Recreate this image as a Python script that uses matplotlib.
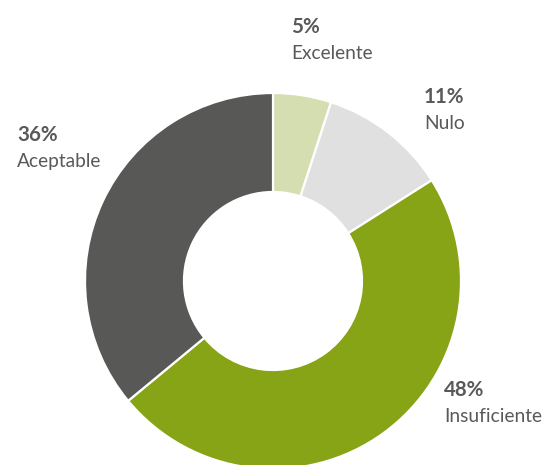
import matplotlib.pyplot as plt

categories = ['Excelente', 'Nulo', 'Insuficiente', 'Aceptable']
values = [5, 11, 48, 36]
colors = ['#d4deb0', '#e0e0e0', '#87a316', '#585856']

# label anchors in pixel coords (left x, baseline of first line)
label_pos = [(291, 33), (424, 103), (444, 396), (17, 141)]

W, H = 544, 465
fig = plt.figure(figsize=(W / 100, H / 100), dpi=100)
ax = fig.add_axes([0, 0, 1, 1])

ax.pie(values, colors=colors, startangle=90, counterclock=False,
       center=(273, H - 281), radius=188,
       wedgeprops=dict(width=99, edgecolor='white', linewidth=1.6))

ax.set_xlim(0, W)
ax.set_ylim(0, H)
ax.set_aspect('equal')
ax.axis('off')

txt_color = '#58595b'
for cat, val, (x, y) in zip(categories, values, label_pos):
    ax.text(x, H - y, f'{val}%', family='Lato', fontsize=14.8,
            fontweight='bold', color=txt_color, ha='left', va='baseline')
    ax.text(x, H - y - 26, cat, family='Lato', fontsize=13.8,
            color=txt_color, ha='left', va='baseline')

fig.savefig('out.png', dpi=100)
